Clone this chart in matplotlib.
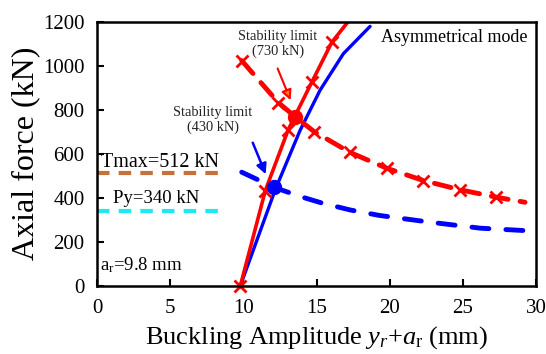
import matplotlib
matplotlib.use("Agg")
import matplotlib.pyplot as plt

plt.rcParams['font.family'] = ['Liberation Serif', 'DejaVu Serif']
plt.rcParams['mathtext.fontset'] = 'custom'
plt.rcParams['mathtext.rm'] = 'Liberation Serif'
plt.rcParams['mathtext.it'] = 'Liberation Serif:italic'

# Red solid (symmetrical path) with crosses
red_solid_x = [9.8, 11.5, 13.07, 14.67, 16.05, 17.2]
red_solid_y = [0, 432, 710, 925, 1108, 1205]
red_solid_cross_x = [9.8, 11.5, 13.07, 14.67, 16.05]
red_solid_cross_y = [0, 432, 710, 925, 1108]

# Red dashed (stability curve)
red_dash_x = [9.89, 12.39, 13.55, 14.85, 17.29, 19.8, 22.3, 24.8, 27.3, 29.25]
red_dash_y = [1024, 833, 768, 700, 606, 534, 478, 436, 402, 379]
red_dash_cross_x = [9.89, 12.39, 14.85, 17.29, 19.8, 22.3, 24.8, 27.3]
red_dash_cross_y = [1024, 833, 700, 606, 534, 478, 436, 402]

# Blue solid
blue_solid_x = [9.8, 12.2, 13.88, 15.24, 16.84, 18.66]
blue_solid_y = [0, 440, 707, 889, 1056, 1180]

# Blue dashed
blue_dash_x = [9.89, 12.1, 13.9, 15.4, 17.3, 19.3, 22.8, 26.2, 29.25]
blue_dash_y = [516, 447, 405, 375, 344, 319, 288, 261, 250]

# Stability limit points
red_limit = (13.55, 768)
blue_limit = (12.1, 447)

tmax = 512
py = 340

fig = plt.figure(figsize=(5.46, 3.54), dpi=100)
ax = fig.add_axes([0.1777, 0.1935, 0.804, 0.7444])

ax.plot(blue_solid_x, blue_solid_y, color='#0000FF', lw=2.4, solid_capstyle='round')
ax.plot(blue_dash_x, blue_dash_y, color='#0000FF', lw=3.5, dashes=(3.5, 3.5), dash_capstyle='round')
ax.plot(red_solid_x, red_solid_y, color='#FF0000', lw=2.6)
ax.plot(red_solid_cross_x, red_solid_cross_y, ls='none', marker='x', ms=9, mew=2, color='#FF0000', clip_on=False)
ax.plot(red_dash_x, red_dash_y, color='#FF0000', lw=3.5, dashes=(3.5, 2.5), dash_capstyle='round')
ax.plot(red_dash_cross_x, red_dash_cross_y, ls='none', marker='x', ms=9, mew=2, color='#FF0000')

ax.plot([0, 8.3], [tmax, tmax], color='#C8703C', lw=3, dashes=(3, 2.2))
ax.plot([0, 8.3], [py, py], color='#20E8F0', lw=3, dashes=(3, 2.2))

ax.plot(*red_limit, 'o', color='#FF0000', ms=10)
ax.plot(*blue_limit, 'o', color='#0000FF', ms=10)

ax.annotate('', xy=(13.3, 832), xytext=(12.27, 1000),
            arrowprops=dict(arrowstyle='-|>,head_length=0.6,head_width=0.3', color='#FF0000',
                            fc='#FF7F00', lw=1.5))
ax.annotate('', xy=(11.6, 495), xytext=(10.57, 662),
            arrowprops=dict(arrowstyle='-|>,head_length=0.6,head_width=0.3', color='#0000FF', lw=1.8))

ax.text(12.37, 1099, 'Stability limit\n(730 kN)', ha='center', va='center', fontsize=10.4,
        linespacing=1.15, color='#222222')
ax.text(7.93, 753, 'Stability limit\n(430 kN)', ha='center', va='center', fontsize=10.4,
        linespacing=1.15, color='#222222')
ax.text(29.4, 1131, 'Asymmetrical mode', ha='right', va='center', fontsize=13)
ax.text(0.27, 562, 'Tmax=512 kN', ha='left', va='center', fontsize=14.5)
ax.text(1.1, 398, 'Py=340 kN', ha='left', va='center', fontsize=13.5)
ax.text(0.2, 93, r'a$_{\rm r}$=9.8 mm', ha='left', va='center', fontsize=13.5)

ax.set_xlim(0, 30)
ax.set_ylim(0, 1200)
ax.set_xticks([0, 5, 10, 15, 20, 25, 30])
ax.set_yticks([0, 200, 400, 600, 800, 1000, 1200])
ax.tick_params(direction='in', length=5, width=1.5, labelsize=15)
ax.tick_params(axis='x', pad=10)
ax.tick_params(axis='y', pad=9)
for s in ax.spines.values():
    s.set_linewidth(1.8)
ax.set_xlabel(r'Buckling Amplitude $y_r$+$a_{\rm r}$ (mm)', fontsize=19, labelpad=4)
ax.set_ylabel('Axial force (kN)', fontsize=23, labelpad=2)

fig.savefig('out.png', dpi=100)
